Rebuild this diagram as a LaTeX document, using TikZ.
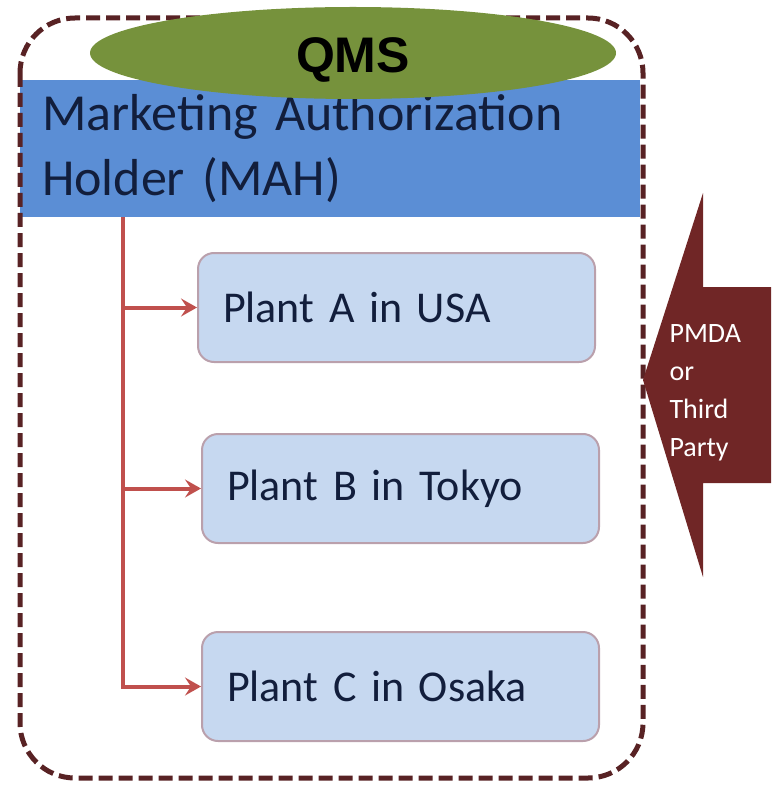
\documentclass[tikz,border=0pt]{standalone}
\usepackage{fontspec}
\setmainfont{Carlito}
\newfontfamily\arialfont{Liberation Sans}
\usetikzlibrary{shapes.geometric,positioning,arrows.meta}
\definecolor{marron}{RGB}{88,34,36}
\definecolor{granate}{RGB}{112,38,38}
\definecolor{olivo}{RGB}{118,146,60}
\definecolor{azul}{RGB}{91,142,213}
\definecolor{azulosc}{RGB}{18,30,60}
\definecolor{celeste}{RGB}{198,216,240}
\definecolor{malva}{RGB}{186,160,172}
\definecolor{rojo}{RGB}{192,80,77}
\newcommand\espaciado{\spaceskip=0.16em\relax}
\tikzset{
	marco/.style={draw=marron, line width=5pt, dash pattern=on 14pt off 6pt, 
		rounded corners=55pt},
	titular/.style={rectangle, fill=azul, text=azulosc, minimum width=620pt, 
		minimum height=137pt, text width=576pt, inner xsep=22pt, align=left, 
		font={\fontsize{52}{65}\selectfont\espaciado}},
	qms/.style={ellipse, fill=olivo, minimum width=526pt, minimum height=92pt, 
		inner sep=0pt},
	qmstexto/.style={font=\arialfont\bfseries\fontsize{50}{60}\selectfont},
	planta/.style={rectangle, rounded corners=16pt, draw=malva, line width=2pt, 
		fill=celeste, text=azulosc, minimum width=397pt, minimum height=109pt, 
		text width=347pt, inner xsep=25pt, align=left, 
		font={\fontsize{44}{52}\selectfont\espaciado}},
	enlace/.style={draw=rojo, line width=4pt, 
		-{Stealth[length=16pt,width=18pt,inset=6pt]}},
	auditor/.style={text=white, align=left, font=\fontsize{28}{38}\selectfont}
}
\begin{document}
\begin{tikzpicture}[x=1pt,y=-1pt]
	\useasboundingbox (0,0) rectangle (771,786);
	
	\node[titular] (mah) at (330,148.5) {Marketing Authorization\\Holder (MAH)};
	\draw[marco] (20,18) rectangle (643,778);
	\node[qms] (qms) at (353,53) {};
	\node[qmstexto, yshift=-7pt] (qmslabel) at (qms.center) {QMS};
	
	\node[planta] (plantaA) at (396.5,307.5) {Plant A in USA};
	\node[planta, below=70pt of plantaA, xshift=4pt] (plantaB) {Plant B in Tokyo};
	\node[planta, below=87pt of plantaB] (plantaC) {Plant C in Osaka};
	
	\coordinate (tronco) at ([xshift=103pt]mah.south west);
	\draw[enlace] (tronco) |- (plantaC.west);
	\draw[enlace] (tronco |- plantaA.west) -- (plantaA.west);
	\draw[enlace] (tronco |- plantaB.west) -- (plantaB.west);
	
	\fill[granate] (771,287) -- (703,287) -- (703,193) -- (643,380) 
		-- (703,577) -- (703,483) -- (771,483) -- cycle;
	\node[auditor, anchor=north west] (pmda) at (666,321) {PMDA\\or\\Third\\Party};
\end{tikzpicture}
\end{document}
